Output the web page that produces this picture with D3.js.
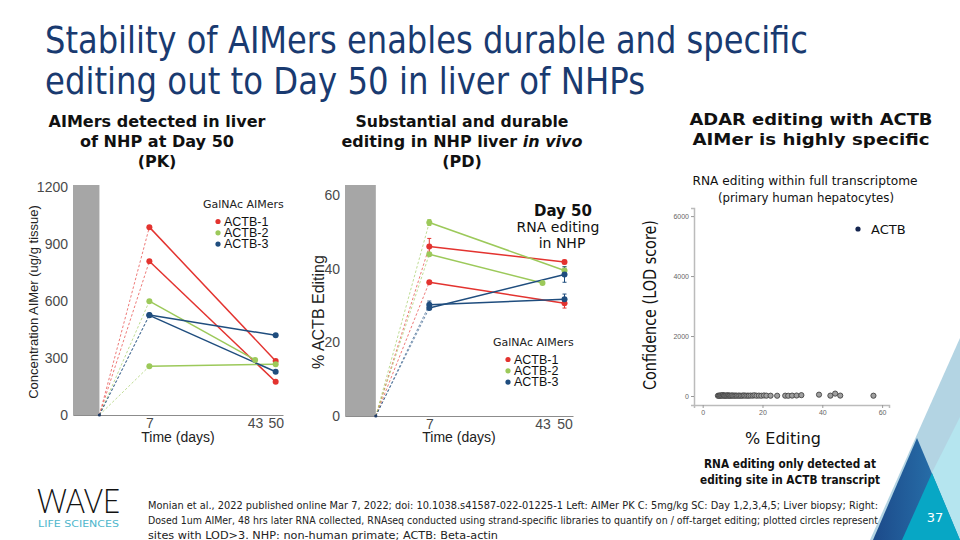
<!DOCTYPE html>
<meta charset="utf-8">
<style>
body { margin: 0; background: #fff; }
.tick text { font-family: "Liberation Sans", Arial, sans-serif; }
</style>
<body>
<script src="https://d3js.org/d3.v7.min.js"></script>
<script>

// ---- data ----
var seriesNames = ["ACTB-1", "ACTB-2", "ACTB-3"];
var seriesColors = ["#e3332f", "#9cc95a", "#1f4d7e"];

// PK: concentration (ug/g tissue), one line per animal
var pkSeries = ["ACTB-1", "ACTB-1", "ACTB-2", "ACTB-2", "ACTB-3", "ACTB-3"];
var pkDay7 = [990, 810, 600, 257, 527, 525];
var pkEndDay = [50, 50, 43, 50, 50, 50];
var pkEnd = [285, 175, 290, 268, 420, 228];

// PD: % ACTB editing
var pdSeries = ["ACTB-1", "ACTB-1", "ACTB-2", "ACTB-2", "ACTB-3", "ACTB-3"];
var pdDay7 = [46.0, 36.3, 52.5, 43.9, 30.2, 29.3];
var pdDay7Err = [2.2, 0, 0.8, 0, 1.0, 0];
var pdEndDay = [50, 50, 50, 43, 50, 50];
var pdEnd = [41.8, 30.6, 39.5, 36.1, 31.7, 38.4];
var pdEndErr = [0.5, 1.3, 1.0, 0, 1.4, 2.1];

var dayTicks = [7, 43, 50];
var startDay = -10;
var pkTicks = [0, 300, 600, 900, 1200];
var pdTicks = [0, 20, 40, 60];

// transcriptome scatter: % editing vs LOD score
var editPct = [5.1, 5.4, 5.7, 6.0, 6.2, 6.5, 6.8, 7.1, 7.3, 7.6, 7.9, 8.2, 8.5, 8.8, 9.1, 9.5, 9.8,
  10.2, 10.6, 11.0, 11.4, 11.9, 12.3, 12.8, 13.3, 13.8, 14.3, 14.9, 15.4, 16.0, 16.7, 17.3, 18.0,
  18.8, 19.6, 20.5, 21.3, 22.7, 24.9, 27.6, 28.6, 29.9, 31.4, 33.0, 38.9, 42.7, 44.3, 46.0, 57.1];
var lodScore = [8, 12, 6, 22, 10, 15, 30, 9, 14, 7, 18, 11, 25, 9, 13, 8, 20, 12, 10, 16, 9, 11, 14,
  8, 12, 19, 10, 13, 9, 15, 11, 24, 10, 14, 9, 18, 12, 10, 9, 11, 8, 13, 16, 28, 45, 12, 80, 14, 10];
var scatterXTicks = [0, 20, 40, 60];
var scatterYTicks = [0, 2000, 4000, 6000];

var footer = [
  "Monian et al., 2022 published online Mar 7, 2022; doi: 10.1038.s41587-022-01225-1 Left: AIMer PK C: 5mg/kg SC: Day 1,2,3,4,5; Liver biopsy; Right:",
  "Dosed 1um AIMer, 48 hrs later RNA collected, RNAseq conducted using strand-specific libraries to quantify on / off-target editing; plotted circles represent",
  "sites with LOD>3. NHP: non-human primate; ACTB: Beta-actin"
];

var colorOf = d3.scaleOrdinal().domain(seriesNames).range(seriesColors);
var ARIAL = "'Liberation Sans', Arial, sans-serif";
var VERD = "'DejaVu Sans', Verdana, sans-serif";

var svg = d3.select("body").append("svg")
    .attr("width", 960)
    .attr("height", 540);

svg.append("rect").attr("width", 960).attr("height", 540).attr("fill", "#fff");

// ---- decorative triangles bottom right ----
var defs = svg.append("defs");
var grad = defs.append("linearGradient").attr("id", "darkTri").attr("x1", 0).attr("x2", 1);
grad.append("stop").attr("offset", "0%").attr("stop-color", "#1c4a8a");
grad.append("stop").attr("offset", "100%").attr("stop-color", "#2b7db5");

var tri = svg.append("g");
tri.append("path").attr("d", "M960,338 L870,540 L960,540 Z").attr("fill", "#b3d4e3");
tri.append("path").attr("d", "M960,417 L898,540 L960,540 Z").attr("fill", "#b5e5ef");
tri.append("path").attr("d", "M917,438 L873,540 L960,540 Z").attr("fill", "url(#darkTri)");
tri.append("path").attr("d", "M932,473 L902,540 L960,540 Z").attr("fill", "#07a7c5");
svg.append("text").attr("x", 935).attr("y", 522).attr("text-anchor", "middle")
    .attr("font-family", VERD).attr("font-size", 13).attr("fill", "#fff").text("37");

// ---- slide title ----
var title = svg.append("g").attr("font-family", VERD).attr("fill", "#193a70").attr("font-size", 38);
title.append("text").attr("x", 45).attr("y", 53)
    .attr("textLength", 763).attr("lengthAdjust", "spacingAndGlyphs")
    .text("Stability of AIMers enables durable and specific");
title.append("text").attr("x", 45).attr("y", 94)
    .attr("textLength", 600).attr("lengthAdjust", "spacingAndGlyphs")
    .text("editing out to Day 50 in liver of NHPs");

// ---- section headings ----
function heading(lines, cx, y0, widths) {
  var g = svg.append("g").attr("font-family", VERD).attr("font-weight", "bold")
      .attr("font-size", 16).attr("fill", "#111").attr("text-anchor", "middle");
  lines.forEach(function(l, i) {
    var t = g.append("text").attr("x", cx).attr("y", y0 + i * 20);
    if (widths[i]) t.attr("textLength", widths[i]).attr("lengthAdjust", "spacingAndGlyphs");
    if (typeof l === "string") t.text(l);
    else l.forEach(function(p) {
      t.append("tspan").attr("font-style", p.italic ? "italic" : null).text(p.t);
    });
  });
}
heading(["AIMers detected in liver", "of NHP at Day 50", "(PK)"], 157, 127, [217, 154, 0]);
heading(["Substantial and durable",
         [{t: "editing in NHP liver "}, {t: "in vivo", italic: true}], "(PD)"], 462, 127, [213, 241, 0]);
heading(["ADAR editing with ACTB", "AIMer is highly specific"], 811, 125, [243, 237]);

// ---- shared helper for the two time-course panels ----
function timeCourse(opt) {
  var x = d3.scaleLinear().domain(opt.xDomain).range(opt.xRange);
  var y = d3.scaleLinear().domain(opt.yDomain).range(opt.yRange);
  var g = svg.append("g");

  // dosing period bar
  g.append("rect")
      .attr("x", x(opt.xDomain[0])).attr("width", x(startDay) - x(opt.xDomain[0]))
      .attr("y", y(opt.yDomain[1])).attr("height", y(0) - y(opt.yDomain[1]))
      .attr("fill", "#a6a6a6");

  // axes
  var ya = g.append("g").attr("transform", "translate(" + opt.xRange[0] + ",0)")
      .call(d3.axisLeft(y).tickValues(opt.yTicks).tickFormat(d3.format("d")).tickSize(0).tickPadding(5));
  var xa = g.append("g").attr("transform", "translate(0," + y(0) + ")")
      .call(d3.axisBottom(x).tickValues(dayTicks).tickSize(0).tickPadding(3));
  [ya, xa].forEach(function(a) {
    a.select(".domain").attr("stroke", "#8c8c8c");
    a.selectAll("text").attr("font-size", 14).attr("fill", "#4a4a4a");
  });
  ya.select(".domain").attr("stroke", "#a6a6a6");

  g.append("text").attr("x", (opt.xRange[0] + opt.xRange[1]) / 2).attr("y", 442)
      .attr("text-anchor", "middle").attr("font-family", ARIAL).attr("font-size", 14)
      .attr("fill", "#222").text("Time (days)");
  g.append("text").attr("transform", "rotate(-90)")
      .attr("x", -opt.yLabelY).attr("y", opt.yLabelX)
      .attr("text-anchor", "middle").attr("font-family", ARIAL).attr("font-size", opt.yLabelSize)
      .attr("fill", "#222").text(opt.yLabel);

  // dotted lead-in from dosing to day 7
  opt.day7.forEach(function(v, i) {
    g.append("line")
        .attr("x1", x(startDay)).attr("y1", y(0)).attr("x2", x(7)).attr("y2", y(v))
        .attr("stroke", colorOf(opt.series[i])).attr("stroke-opacity", 0.65)
        .attr("stroke-width", 1).attr("stroke-dasharray", "2.5,2");
  });

  // solid lines day 7 -> end
  opt.day7.forEach(function(v, i) {
    var c = colorOf(opt.series[i]);
    g.append("line")
        .attr("x1", x(7)).attr("y1", y(v)).attr("x2", x(opt.endDay[i])).attr("y2", y(opt.end[i]))
        .attr("stroke", c).attr("stroke-width", 1.5);
  });

  // error bars
  function errBar(day, v, e, c) {
    if (!e) return;
    g.append("line").attr("x1", x(day)).attr("x2", x(day)).attr("y1", y(v - e)).attr("y2", y(v + e))
        .attr("stroke", c).attr("stroke-width", 1);
    [v - e, v + e].forEach(function(w) {
      g.append("line").attr("x1", x(day) - 2).attr("x2", x(day) + 2).attr("y1", y(w)).attr("y2", y(w))
          .attr("stroke", c).attr("stroke-width", 1);
    });
  }
  opt.day7.forEach(function(v, i) {
    var c = colorOf(opt.series[i]);
    if (opt.day7Err) errBar(7, v, opt.day7Err[i], c);
    if (opt.endErr) errBar(opt.endDay[i], opt.end[i], opt.endErr[i], c);
  });

  // points
  opt.day7.forEach(function(v, i) {
    var c = colorOf(opt.series[i]);
    g.append("circle").attr("cx", x(7)).attr("cy", y(v)).attr("r", 3).attr("fill", c);
    g.append("circle").attr("cx", x(opt.endDay[i])).attr("cy", y(opt.end[i])).attr("r", 3).attr("fill", c);
  });
  g.append("circle").attr("cx", x(startDay)).attr("cy", y(0)).attr("r", 1.6).attr("fill", "#1f3b66");

  // legend
  var lg = g.append("g").attr("transform", "translate(" + opt.legend[0] + "," + opt.legend[1] + ")");
  lg.append("text").attr("x", 0).attr("y", 0).attr("font-family", VERD).attr("font-size", 11)
      .attr("fill", "#222").text("GalNAc AIMers");
  seriesNames.forEach(function(s, i) {
    lg.append("circle").attr("cx", 15).attr("cy", 13.5 + i * 11.3).attr("r", 2.6).attr("fill", colorOf(s));
    lg.append("text").attr("x", 21).attr("y", 17.8 + i * 11.3).attr("font-family", ARIAL)
        .attr("font-size", 12.5).attr("fill", "#111").text(s);
  });
  return {x: x, y: y, g: g};
}

// ---- left panel: PK ----
timeCourse({
  xDomain: [-19, 52.5], xRange: [73, 283],
  yDomain: [0, 1212], yRange: [415, 185],
  yTicks: pkTicks, yLabel: "Concentration AIMer (ug/g tissue)", yLabelX: 38, yLabelY: 302, yLabelSize: 13,
  series: pkSeries, day7: pkDay7, endDay: pkEndDay, end: pkEnd,
  legend: [203, 208]
});

// ---- middle panel: PD ----
timeCourse({
  xDomain: [-19.8, 52.7], xRange: [345, 573],
  yDomain: [0, 62.7], yRange: [416, 185],
  yTicks: pdTicks, yLabel: "% ACTB Editing", yLabelX: 324, yLabelY: 312, yLabelSize: 16,
  series: pdSeries, day7: pdDay7, day7Err: pdDay7Err, endDay: pdEndDay, end: pdEnd, endErr: pdEndErr,
  legend: [493, 346]
});

var note = svg.append("g").attr("font-family", VERD).attr("text-anchor", "middle").attr("fill", "#111");
note.append("text").attr("x", 563).attr("y", 216).attr("font-weight", "bold").attr("font-size", 15).text("Day 50");
note.append("text").attr("x", 558).attr("y", 232).attr("font-size", 14).text("RNA editing");
note.append("text").attr("x", 562).attr("y", 248).attr("font-size", 14).text("in NHP");

// ---- right panel: transcriptome-wide scatter ----
var sx = d3.scaleLinear().domain([-2.9, 62.3]).range([694, 889]);
var sy = d3.scaleLinear().domain([-300, 6270]).range([405, 208]);
var sg = svg.append("g");

var sxa = sg.append("g").attr("transform", "translate(0,405)")
    .call(d3.axisBottom(sx).tickValues(scatterXTicks).tickSize(3).tickPadding(2));
var sya = sg.append("g").attr("transform", "translate(694,0)")
    .call(d3.axisLeft(sy).tickValues(scatterYTicks).tickFormat(d3.format("d")).tickSize(3).tickPadding(2));
[sxa, sya].forEach(function(a) {
  a.select(".domain").attr("stroke", "#bbb").attr("stroke-width", 1.5);
  a.selectAll(".tick line").attr("stroke", "#999");
  a.selectAll("text").attr("font-size", 7).attr("fill", "#666");
});

sg.selectAll("circle.site")
    .data(editPct.map(function(v, i) { return {x: v, y: lodScore[i]}; }))
  .enter().append("circle")
    .attr("class", "site")
    .attr("cx", function(d) { return sx(d.x); })
    .attr("cy", function(d) { return sy(d.y); })
    .attr("r", 2.6)
    .attr("fill", "#a0a0a0")
    .attr("stroke", "#444")
    .attr("stroke-width", 0.9);

sg.append("circle").attr("cx", 858).attr("cy", 229).attr("r", 2.6).attr("fill", "#14254f");
sg.append("text").attr("x", 871).attr("y", 234).attr("font-family", VERD).attr("font-size", 13)
    .attr("fill", "#111").text("ACTB");

sg.append("text").attr("x", 805).attr("y", 185).attr("text-anchor", "middle")
    .attr("font-family", VERD).attr("font-size", 13).attr("fill", "#111")
    .attr("textLength", 225).attr("lengthAdjust", "spacingAndGlyphs")
    .text("RNA editing within full transcriptome");
sg.append("text").attr("x", 806).attr("y", 202).attr("text-anchor", "middle")
    .attr("font-family", VERD).attr("font-size", 13).attr("fill", "#111")
    .attr("textLength", 176).attr("lengthAdjust", "spacingAndGlyphs")
    .text("(primary human hepatocytes)");

sg.append("text").attr("transform", "rotate(-90)").attr("x", -305).attr("y", 656)
    .attr("text-anchor", "middle").attr("font-family", VERD).attr("font-size", 18).attr("fill", "#111")
    .attr("textLength", 170).attr("lengthAdjust", "spacingAndGlyphs")
    .text("Confidence (LOD score)");
sg.append("text").attr("x", 783).attr("y", 444).attr("text-anchor", "middle")
    .attr("font-family", VERD).attr("font-size", 16).attr("fill", "#111").text("% Editing");

var rn = svg.append("g").attr("font-family", VERD).attr("font-weight", "bold").attr("font-size", 12.5)
    .attr("fill", "#111").attr("text-anchor", "middle");
rn.append("text").attr("x", 790).attr("y", 468).attr("textLength", 172).attr("lengthAdjust", "spacingAndGlyphs")
    .text("RNA editing only detected at");
rn.append("text").attr("x", 790).attr("y", 484).attr("textLength", 180).attr("lengthAdjust", "spacingAndGlyphs")
    .text("editing site in ACTB transcript");

// ---- logo + footnote ----
svg.append("text").attr("x", 37).attr("y", 513).attr("font-family", "Lato, 'DejaVu Sans', sans-serif")
    .attr("font-weight", 300).attr("font-size", 34).attr("fill", "#111")
    .attr("textLength", 83).attr("lengthAdjust", "spacingAndGlyphs").text("WAVE");
svg.append("text").attr("x", 38).attr("y", 527).attr("font-family", VERD).attr("font-size", 8.5)
    .attr("fill", "#4db6cc").attr("textLength", 81).attr("lengthAdjust", "spacingAndGlyphs")
    .text("LIFE SCIENCES");

var widths = [730, 730, 350];
footer.forEach(function(line, i) {
  svg.append("text").attr("x", 148).attr("y", 509 + i * 15)
      .attr("font-family", VERD).attr("font-size", 10).attr("fill", "#222")
      .attr("textLength", widths[i]).attr("lengthAdjust", "spacingAndGlyphs")
      .text(line);
});

</script>
</body>
